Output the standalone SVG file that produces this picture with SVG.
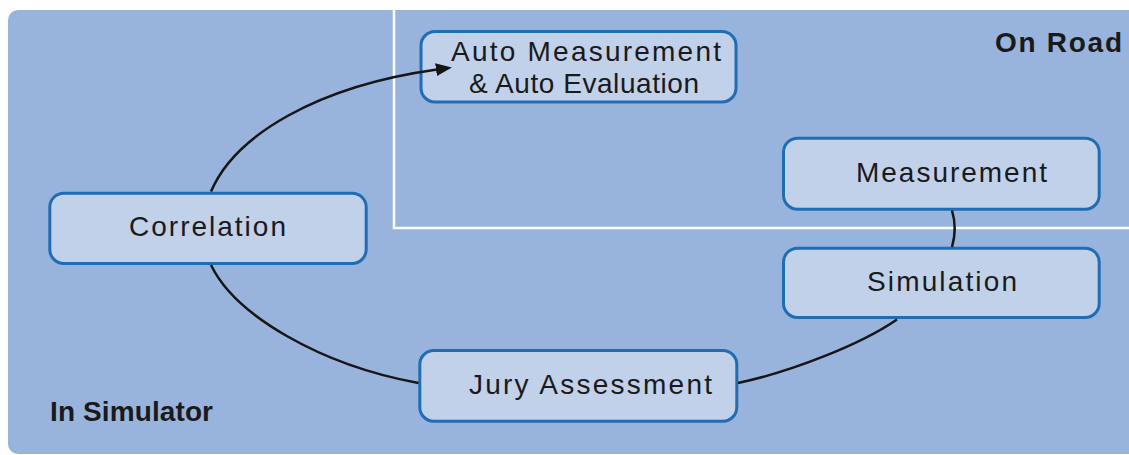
<svg xmlns="http://www.w3.org/2000/svg" width="1129" height="455" viewBox="0 0 1129 455">
  <style>
    .bg { fill: #98b4dc; }
    .sep { stroke: #ffffff; stroke-width: 2.5; fill: none; }
    .box { fill: #c1d1ea; stroke: #1f6db5; stroke-width: 3; }
    .lbl { font-family: "Liberation Sans", Arial, sans-serif; font-size: 28px; fill: #1a1a1a; }
    .zone { font-family: "Liberation Sans", Arial, sans-serif; font-size: 28px; font-weight: bold; fill: #1a1a1a; }
    .conn { fill: none; stroke: #161616; stroke-width: 2.5; }
  </style>
  <defs>
    <marker id="arrow" markerUnits="userSpaceOnUse" markerWidth="17" markerHeight="14" refX="1" refY="7" orient="auto">
      <path d="M0,0.5 L16,7 L0,13.5 z" fill="#161616"/>
    </marker>
  </defs>
  <rect width="1129" height="455" fill="#ffffff"/>
  <rect class="bg" x="8" y="10" width="1140" height="444" rx="10"/>
  <g id="zone-onroad">
    <path class="sep" d="M394,10 V228 H1129"/>
    <text class="zone" x="995" y="52" textLength="127" lengthAdjust="spacing">On Road</text>
  </g>
  <g id="zone-simulator">
    <text class="zone" x="50" y="420.5" textLength="163" lengthAdjust="spacing">In Simulator</text>
  </g>
  <g id="node-auto">
    <rect class="box" x="421" y="31.5" width="315" height="70.5" rx="14"/>
    <text class="lbl" x="451" y="61" textLength="270" lengthAdjust="spacing">Auto Measurement</text>
    <text class="lbl" x="469" y="93" textLength="230" lengthAdjust="spacing">&amp; Auto Evaluation</text>
  </g>
  <g id="node-measurement">
    <rect class="box" x="783.5" y="138.2" width="315.7" height="71" rx="14"/>
    <text class="lbl" x="856" y="182" textLength="191" lengthAdjust="spacing">Measurement</text>
  </g>
  <g id="node-simulation">
    <rect class="box" x="783.5" y="248.2" width="315.7" height="69.3" rx="14"/>
    <text class="lbl" x="867" y="291" textLength="150" lengthAdjust="spacing">Simulation</text>
  </g>
  <g id="node-correlation">
    <rect class="box" x="49.8" y="193.2" width="316.4" height="70.3" rx="14"/>
    <text class="lbl" x="129" y="235.5" textLength="157" lengthAdjust="spacing">Correlation</text>
  </g>
  <g id="node-jury">
    <rect class="box" x="419.8" y="350.5" width="317" height="70.7" rx="14"/>
    <text class="lbl" x="469" y="394" textLength="243" lengthAdjust="spacing">Jury Assessment</text>
  </g>
  <g id="connectors">
    <path class="conn" d="M211,191.5 C235,135 318,86 437,69.5" marker-end="url(#arrow)"/>
    <path class="conn" d="M211,265 C235,315 320,365 418.5,383"/>
    <path class="conn" d="M738,383 C790,372 860,345 897,319.5"/>
    <path class="conn" d="M952,210.5 C955.5,222 955.5,235 952,247"/>
  </g>
</svg>
